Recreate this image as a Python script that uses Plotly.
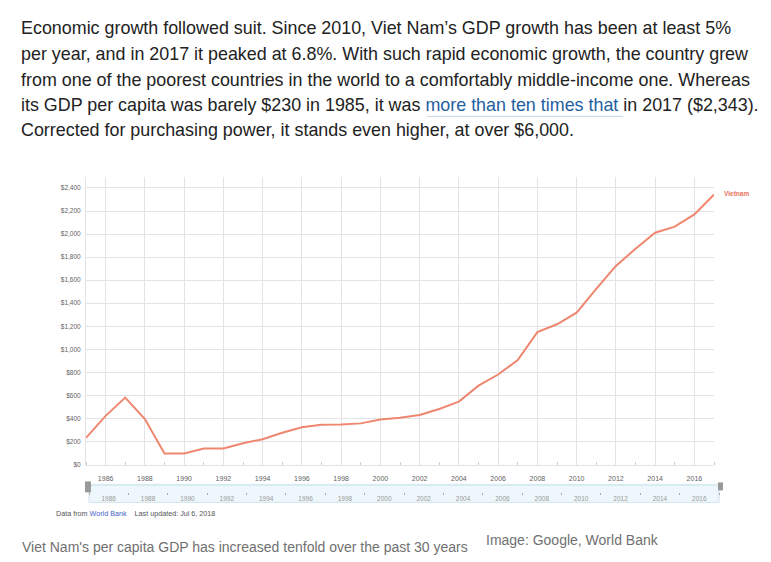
import plotly.graph_objects as go

# ---------------- data ----------------
years = list(range(1985, 2018))
gdp_per_capita = [231, 422, 581, 394, 95, 95, 138, 140, 185, 220,
                  276, 323, 345, 347, 357, 390, 405, 430, 482, 546,
                  684, 781, 906, 1149, 1217, 1318, 1525, 1724, 1872, 2012,
                  2065, 2171, 2343]
series_name = "Vietnam"
major_years = list(range(1986, 2017, 2))
y_ticks = list(range(0, 2401, 200))
y_tick_text = ["${:,}".format(v) for v in y_ticks]

paragraph_lines = [
    "Economic growth followed suit. Since 2010, Viet Nam\u2019s GDP growth has been at least 5%",
    "per year, and in 2017 it peaked at 6.8%. With such rapid economic growth, the country grew",
    "from one of the poorest countries in the world to a comfortably middle-income one. Whereas",
    "its GDP per capita was barely $230 in 1985, it was <span style='color:#1f5f9f'>more than ten times that</span> in 2017 ($2,343).",
    "Corrected for purchasing power, it stands even higher, at over $6,000.",
]
caption = "Viet Nam's per capita GDP has increased tenfold over the past 30 years"
credit = "Image: Google, World Bank"
source_note = ("<span style='color:#555555'>Data from </span>"
               "<span style='color:#3f63c8'>World Bank</span>"
               "<span style='color:#555555'>&nbsp;&nbsp;&nbsp; Last updated: Jul 6, 2018</span>")

# ---------------- layout helpers ----------------
W, H = 771, 562
def px(x):
    return x / W
def py(y):
    return 1 - y / H

FONT = "Liberation Sans, Arial, sans-serif"
GRID = "#e3e3e3"
LINE = "#ef8770"

fig = go.Figure()
fig.add_trace(go.Scatter(
    x=years, y=gdp_per_capita, mode="lines", name=series_name,
    line=dict(color=LINE, width=2), showlegend=False, hoverinfo="x+y",
    xaxis="x", yaxis="y",
))
# invisible trace for slider axis
fig.add_trace(go.Scatter(x=[years[0], years[-1]], y=[0, 0], mode="lines",
                         line=dict(width=0), showlegend=False, hoverinfo="skip",
                         xaxis="x2", yaxis="y2"))

annotations = []
line_y = [28, 54, 80, 106, 131]
for t, yy in zip(paragraph_lines, line_y):
    annotations.append(dict(text=t, x=px(19), y=py(yy), xref="paper", yref="paper",
                            xanchor="left", yanchor="middle", showarrow=False,
                            font=dict(family=FONT, size=17.9, color="#222222")))
annotations += [
    dict(text=caption, x=px(20), y=py(550), xref="paper", yref="paper",
         xanchor="left", yanchor="middle", showarrow=False,
         font=dict(family=FONT, size=14, color="#707070")),
    dict(text=credit, x=px(484), y=py(543), xref="paper", yref="paper",
         xanchor="left", yanchor="middle", showarrow=False,
         font=dict(family=FONT, size=14, color="#707070")),
    dict(text=source_note, x=px(54), y=py(516), xref="paper", yref="paper",
         xanchor="left", yanchor="middle", showarrow=False,
         font=dict(family=FONT, size=7.2, color="#555555")),
    dict(text="<b>" + series_name + "</b>", x=years[-1], y=gdp_per_capita[-1], xref="x", yref="y",
         xanchor="left", yanchor="middle", xshift=8, yshift=1, showarrow=False,
         font=dict(family=FONT, size=6.5, color="#e8735c")),
]

shapes = [
    # link underline
    dict(type="line", xref="paper", yref="paper", x0=px(427), x1=px(623), y0=py(117), y1=py(117),
         line=dict(color="#c9d6e3", width=1)),
    # range slider box
    dict(type="rect", xref="paper", yref="paper", x0=px(89), x1=px(719), y0=py(505), y1=py(487),
         fillcolor="#eef7fb", line=dict(color="#cfe3ec", width=1), layer="below"),
    dict(type="line", xref="paper", yref="paper", x0=px(89), x1=px(719), y0=py(487.5), y1=py(487.5),
         line=dict(color="#d8eaf2", width=2)),
    # handles
    dict(type="rect", xref="paper", yref="paper", x0=px(85), x1=px(91), y0=py(495), y1=py(484),
         fillcolor="#9a9a9a", line=dict(width=0)),
    dict(type="rect", xref="paper", yref="paper", x0=px(718), x1=px(723), y0=py(493), y1=py(485),
         fillcolor="#9a9a9a", line=dict(width=0)),
]

fig.update_layout(
    width=W, height=H, margin=dict(l=0, r=0, t=0, b=0),
    paper_bgcolor="white", plot_bgcolor="white",
    font=dict(family=FONT),
    annotations=annotations, shapes=shapes,
    xaxis=dict(domain=[px(86), px(714)], range=[1985, 2017], anchor="y",
               tickvals=major_years, ticks="", showgrid=True, gridcolor=GRID, gridwidth=1,
               showline=True, linecolor=GRID, zeroline=False,
               tickfont=dict(family=FONT, size=7, color="#5f5f5f"), ticklabelstandoff=7,
               minor=dict(tickvals=[y for y in years if y % 2 == 1], ticks="inside", ticklen=3,
                          tickcolor="#cccccc", showgrid=False),
               fixedrange=True),
    yaxis=dict(domain=[py(467), py(178)], range=[0, 2495], anchor="x",
               tickvals=y_ticks, ticktext=y_tick_text, ticks="",
               showgrid=True, gridcolor=GRID, gridwidth=1, zeroline=True, zerolinecolor=GRID,
               showline=True, linecolor=GRID, ticklabelstandoff=3,
               tickfont=dict(family=FONT, size=6.5, color="#5f5f5f"), fixedrange=True),
    xaxis2=dict(domain=[px(89), px(719)], range=[1985, 2017], anchor="y2",
                tickvals=major_years, ticks="", showgrid=False, showline=False, zeroline=False,
                tickfont=dict(family=FONT, size=6.5, color="#9a9a9a"), ticklabelstandoff=1,
                minor=dict(tickvals=[y for y in years if y % 2 == 1], ticks="outside", ticklen=2,
                           tickcolor="#aaaaaa", showgrid=False),
                fixedrange=True),
    yaxis2=dict(domain=[py(495), py(488)], range=[0, 1], anchor="x2", visible=False, fixedrange=True),
)

fig.write_html("out.html")
